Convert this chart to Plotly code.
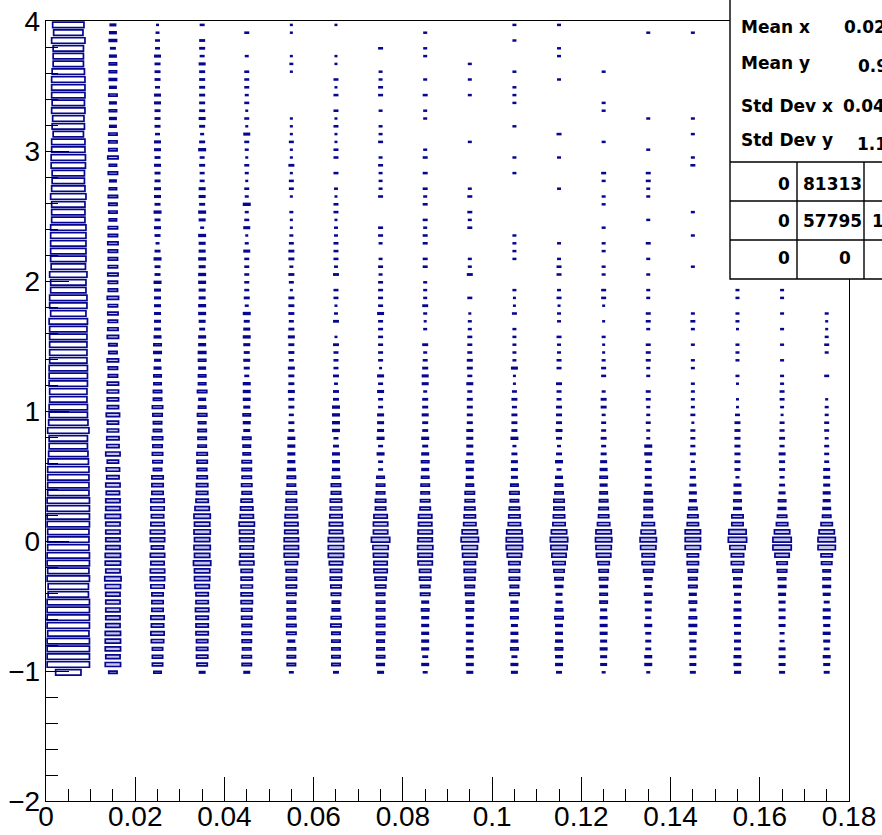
import plotly.graph_objects as go

# ---------------- data (ROOT TH2 "box" plot) ----------------
x_bin_centers = [0.005, 0.015, 0.025, 0.035, 0.045, 0.055, 0.065, 0.075, 0.085,
                 0.095, 0.105, 0.115, 0.125, 0.135, 0.145, 0.155, 0.165, 0.175]
# y binning of the histogram: 100 bins from -2 to 4; rows listed from the top bin (99) down to bin 16
y_lo, y_hi, n_ybins = -2.0, 4.0, 100
top_bin = 99

# relative cell magnitude (box scale units) of the first x column, top row first
col0_values = [33, 31, 35, 32, 32, 32, 34, 35, 35, 35,
               34, 35, 33, 34, 32, 35, 35, 36, 36, 34,
               34, 35, 37, 35, 35, 35, 37, 37, 37, 37,
               37, 36, 39, 37, 37, 39, 39, 37, 40, 39,
               39, 39, 39, 39, 40, 40, 40, 39, 39, 40,
               40, 41, 43, 40, 40, 41, 42, 43, 43, 43,
               43, 44, 44, 44, 44, 43, 43, 43, 44, 44,
               43, 44, 42, 42, 44, 44, 44, 44, 43, 44,
               44, 44, 44, 27]

# remaining x columns: one base-36 character per y row (top row first), same units
col01 = "789689998a" "8988aaac9b" "89baa9bbcb" "bbcbbdbcbc" "daadbbdddd" "fddeegdfeg" "fgghgggghh" "gihggggghh" "hgha"
col02 = "3455766657" "7666577676" "6776867646" "8668777777" "8997899aac" "baacbcbadd" "dffefggegf" "ggfdddfefe" "ccc9"
col03 = "5066576666" "6676468565" "5776874877" "8788778876" "8899899b89" "b9aaaccbcd" "degihihihj" "hhgeefeeed" "ddc7"
col04 = "0500405554" "5353754354" "3548457347" "5555564867" "8767658887" "987a99bbbc" "bdefhggffg" "dddddccbbb" "abb7"
col05 = "3300343000" "0033353363" "5530433456" "6465366656" "7665766766" "56688889aa" "ccdeffggge" "cccbaaabb8" "aaa5"
col06 = "3000330535" "0535335505" "0435534455" "5460553460" "3655564668" "888568889b" "bddeffhhhf" "ddcb99bcaa" "aaa6"
col07 = "0005004455" "0404450454" "4450005540" "4545555755" "5555375755" "777858559a" "accfggkhgf" "fdcaaaaaa9" "9a97"
col08 = "0404400405" "0440004505" "0545054550" "5504446434" "0645677466" "766868989a" "abcffgghgg" "ddbb898888" "8685"
col09 = "0000040404" "0000040000" "0450545000" "4460050344" "5556657566" "6677779889" "bbcdehjhgd" "dcba998887" "8887"
col10 = "4040004044" "4004000404" "0000000444" "4000433504" "4444733565" "6668467779" "bacdehiigd" "ccab899788" "9687"
col11 = "4004400400" "0000500400" "0400000040" "4550453440" "5445506556" "6676468589" "accdehjige" "ca9779a888" "9886"
col12 = "0000004000" "4400040005" "4044004044" "0440553030" "4334550466" "4556567898" "9abcehihgd" "ba99978887" "8774"
col13 = "0400000000" "0040004005" "5440040050" "4040440554" "0555440554" "4544886777" "9aaaegihee" "b979776866" "6884"
col14 = "0400000000" "0040400450" "0000400400" "0400000454" "0404404444" "5355564667" "88acdhhhdd" "baa8979987" "7776"
col15 = "0000000000" "0000000000" "0000000000" "0000440443" "0444043033" "5666666648" "899ddjkhee" "b997788777" "7887"
col16 = "0000000000" "0000000000" "0000000000" "0000440404" "0404044554" "3556576656" "799bdhkkgc" "b998777755" "7776"
col17 = "0000000000" "0000000000" "0000000000" "0000000433" "4540050034" "4554555777" "889adhjjdc" "9998688787" "6876"

other_cols = [col01, col02, col03, col04, col05, col06, col07, col08, col09,
              col10, col11, col12, col13, col14, col15, col16, col17]

x_tick_values = [0, 0.02, 0.04, 0.06, 0.08, 0.1, 0.12, 0.14, 0.16, 0.18]
y_tick_values = [-2, -1, 0, 1, 2, 3, 4]

stats_labels = ["Mean x", "Mean y", "Std Dev x", "Std Dev y"]
stats_values = ["0.02453", "0.9782", "0.04317", "1.139"]
table_rows = [["0", "81313", "3526"], ["0", "57795", "125473"], ["0", "0", "0"]]

# ---------------- build boxes ----------------
ybw = (y_hi - y_lo) / n_ybins
xbw = 0.01
BIN_PX = 44.6
xs, ws, bases, hs, fills = [], [], [], [], []
for c, xc in enumerate(x_bin_centers):
    if c == 0:
        vals = list(col0_values)
    else:
        s = other_cols[c - 1]
        vals = [int(ch, 36) for ch in s]
    vals = (vals + [0] * 84)[:84]
    for r, v in enumerate(vals):
        if v <= 0:
            continue
        b = top_bin - r
        yc = y_lo + ybw * (b + 0.5)
        wr = max(v - 1.7, 0.5) / BIN_PX
        hr = min(max(wr * 1.5, 0.1), 0.7)
        xs.append(xc)
        ws.append(wr * xbw)
        bases.append(yc - hr * ybw / 2)
        hs.append(hr * ybw)
        fills.append("rgba(255,255,255,0)" if c == 0 else "rgba(110,110,205,0.4)")

fig = go.Figure()
fig.add_trace(go.Bar(
    x=xs, y=hs, base=bases, width=ws,
    marker=dict(color=fills, line=dict(color="#06068f", width=1.7)),
    hoverinfo="skip", showlegend=False,
))

# ---------------- layout ----------------
L, R, T, B = 46, 849, 21, 801
W, H = 882, 835


def pxx(x):
    return (x - L) / (R - L)


def pyy(y):
    return (B - y) / (B - T)


tickfont = dict(family="Liberation Sans, Arial, sans-serif", size=28, color="black")
fig.update_layout(
    width=W, height=H,
    margin=dict(l=L, r=W - R, t=T, b=H - B, pad=0, autoexpand=False),
    paper_bgcolor="white", plot_bgcolor="white",
    barmode="overlay",
    showlegend=False,
    xaxis=dict(range=[0, 0.18], tickvals=x_tick_values,
               ticktext=[("%g" % v) for v in x_tick_values],
               ticks="inside", ticklen=24, tickwidth=1, tickcolor="black",
               minor=dict(dtick=0.005, tick0=0, ticks="inside", ticklen=12,
                          tickwidth=1, tickcolor="black", showgrid=False),
               showgrid=False, zeroline=False, showline=True, mirror=True,
               linecolor="black", linewidth=1.4, tickfont=tickfont,
               automargin=False, ticklabelstandoff=-10),
    yaxis=dict(range=[-2, 4], tickvals=y_tick_values,
               ticks="inside", ticklen=23, tickwidth=1, tickcolor="black",
               minor=dict(dtick=0.2, tick0=0, ticks="inside", ticklen=12,
                          tickwidth=1, tickcolor="black", showgrid=False),
               showgrid=False, zeroline=False, showline=True, mirror=True,
               linecolor="black", linewidth=1.4, tickfont=tickfont,
               automargin=False, ticklabelstandoff=-1),
)

# stats box
shapes = [dict(type="rect", xref="paper", yref="paper",
               x0=pxx(730), x1=pxx(1000), y0=pyy(279), y1=pyy(-30),
               fillcolor="white", line=dict(color="black", width=1.4), layer="above")]
for yy in (162, 201, 240):
    shapes.append(dict(type="line", xref="paper", yref="paper",
                       x0=pxx(730), x1=pxx(1000), y0=pyy(yy), y1=pyy(yy),
                       line=dict(color="black", width=1.4), layer="above"))
for xx in (797, 864):
    shapes.append(dict(type="line", xref="paper", yref="paper",
                       x0=pxx(xx), x1=pxx(xx), y0=pyy(162), y1=pyy(279),
                       line=dict(color="black", width=1.4), layer="above"))
fig.update_layout(shapes=shapes)

sfont = dict(family="DejaVu Sans", size=17, color="black")
ann = []
label_y = [27, 63, 106, 140]
value_x = [843, 857, 842, 856]
value_y = [27, 66, 106, 144]
for lab, ly in zip(stats_labels, label_y):
    ann.append(dict(x=pxx(740), y=pyy(ly), xref="paper", yref="paper", text="<b>%s</b>" % lab,
                    showarrow=False, xanchor="left", yanchor="middle", font=sfont, borderpad=0))
for val, vx, vy in zip(stats_values, value_x, value_y):
    ann.append(dict(x=pxx(vx), y=pyy(vy), xref="paper", yref="paper", text="<b>%s</b>" % val,
                    showarrow=False, xanchor="left", yanchor="middle", font=sfont, borderpad=0))
row_y = [184, 221, 258]
cell_x = [[(791, "right"), (863, "right"), (930, "right")],
          [(791, "right"), (863, "right"), (871, "left")],
          [(791, "right"), (852, "right"), (930, "right")]]
for rvals, ry, rr in zip(table_rows, row_y, cell_x):
    for txt, (xr, anc) in zip(rvals, rr):
        ann.append(dict(x=pxx(xr), y=pyy(ry), xref="paper", yref="paper", text="<b>%s</b>" % txt,
                        showarrow=False, xanchor=anc, yanchor="middle", font=sfont, borderpad=0))
fig.update_layout(annotations=ann)

fig.write_html("out.html")
